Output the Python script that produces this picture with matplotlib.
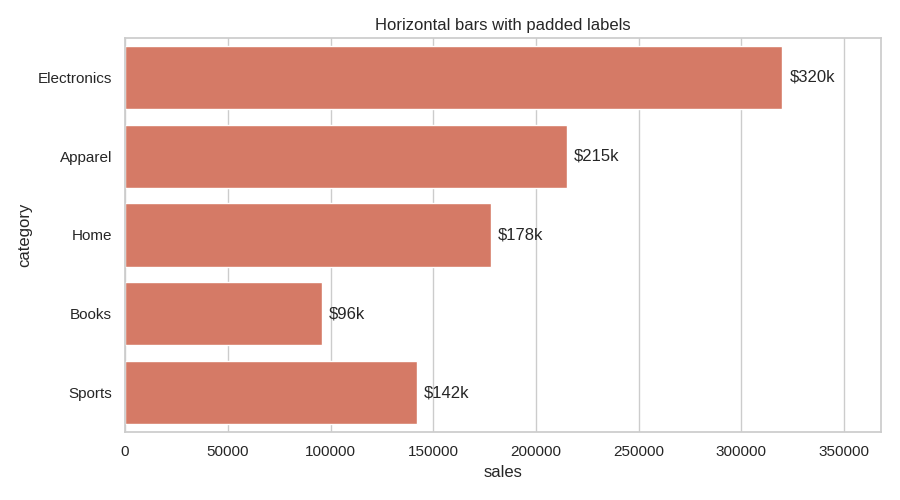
import matplotlib
matplotlib.use("Agg")
import matplotlib.pyplot as plt
import seaborn as sns

categories = ["Electronics", "Apparel", "Home", "Books", "Sports"]
sales = [320000, 215000, 178000, 96000, 142000]
labels = ["$320k", "$215k", "$178k", "$96k", "$142k"]

sns.set_theme(style="whitegrid")
plt.rcParams["font.family"] = ["Liberation Sans", "DejaVu Sans"]

fig, ax = plt.subplots(figsize=(9, 5), dpi=100)
y = list(range(len(categories)))
bars = ax.barh(y, sales, height=0.8, color="#D57A66")
ax.set_yticks(y)
ax.set_yticklabels(categories)
ax.set_ylim(len(categories) - 0.5, -0.5)
ax.set_xlim(0, max(sales) * 1.15)
ax.yaxis.grid(False)
ax.bar_label(bars, labels=labels, padding=5, fontsize=12)
ax.set_xlabel("sales")
ax.set_ylabel("category")
ax.set_title("Horizontal bars with padded labels")
fig.subplots_adjust(left=0.139, right=0.979, top=0.924, bottom=0.136)
fig.savefig("out.png")
